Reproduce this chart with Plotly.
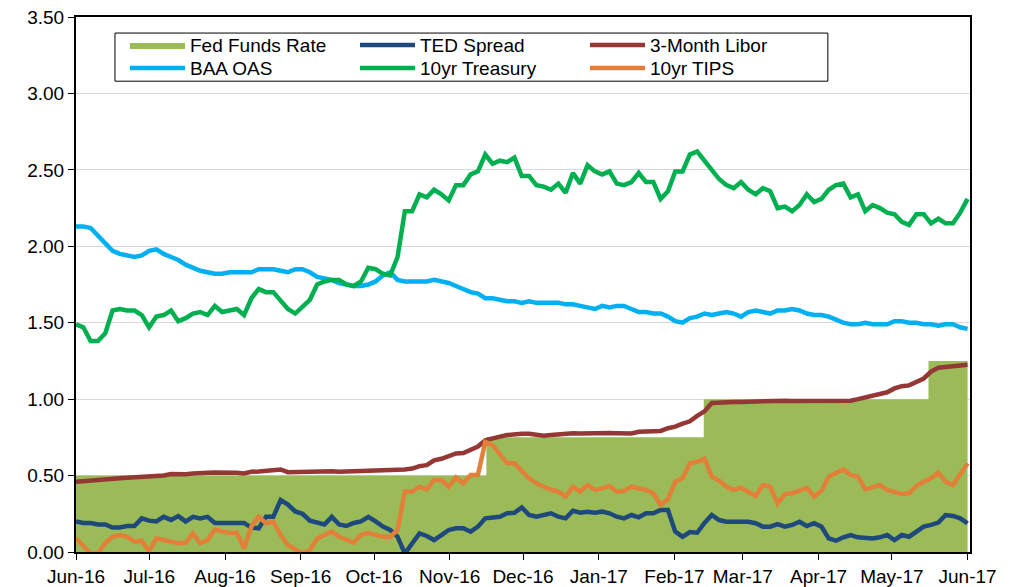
import pandas as pd
import plotly.graph_objects as go

# sample dates, roughly every 3 days from Jun-16 to Jun-17
dates = pd.date_range('2016-06-01', '2017-06-01', periods=123)

# fed funds target (upper bound) as step changes
fed_dates = ['2016-06-01', '2016-11-16', '2017-02-13', '2017-05-16', '2017-06-01']
fed_rate = [0.50, 0.75, 1.00, 1.25, 1.25]

ted_spread = [
    .20, .19, .19, .18, .18, .16, .16, .17, .17, .22, .205, .20, .23, .21, .235, .20, .23, .22, .23, .19, .19,
    .19, .19, .19, .16, .155, .23, .23, .34, .31, .265, .25, .205, .19, .18, .23, .18, .17, .19, .20, .23, .20,
    .166, .144, .10, -.01, .06, .122, .105, .078, .111, .144, .155, .155, .133, .166, .22, .225, .231, .253,
    .257, .292, .242, .231, .242, .253, .231, .22, .27, .257, .264, .257, .264, .253, .231, .22, .242, .227,
    .253, .253, .275, .275, .133,
    .10, .13, .126, .19, .242, .209, .198, .198, .198, .198, .188, .166, .166, .183, .166, .177, .198, .17,
    .188, .166, .089, .074, .096, .111, .096, .089, .089, .096, .111, .078, .111, .10, .133, .166, .177, .192,
    .242, .236, .22, .188,
]

libor_3m = [
    .46, .465, .47, .473, .477, .48, .483, .486, .489, .49, .494, .497, .50, .51, .508, .508, .514, .519, .519,
    .52, .521, .521, .519, .514, .525, .527, .53, .535, .54, .522, .524, .525, .525, .528, .528, .528, .525,
    .529, .53, .53, .531, .532,
    .533, .535, .537, .54, .546, .562, .568, .60, .61, .628, .645, .648, .672, .69, .73, .745, .755, .765, .772,
    .774, .774, .77, .76, .765, .77, .775, .777, .776, .778, .778, .78, .778, .777, .774, .776, .786, .787,
    .789, .792, .81, .82,
    .84, .855, .89, .92, .975, .979, .98, .982, .982, .984, .985, .986, .988, .99, .99, .988, .988, .99, .99,
    .99, .99, .988, .985, .99, 1.0, 1.012, 1.025, 1.04, 1.045, 1.07, 1.085, 1.09, 1.115, 1.135, 1.18, 1.205,
    1.21, 1.215, 1.22, 1.225,
]

baa_oas = [
    2.13, 2.13, 2.12, 2.07, 2.03, 1.97, 1.95, 1.94, 1.93, 1.94, 1.97, 1.98, 1.95, 1.93, 1.91, 1.88, 1.86, 1.84,
    1.83, 1.82, 1.82, 1.83, 1.83, 1.83, 1.83, 1.85, 1.85, 1.85, 1.84, 1.83, 1.85, 1.85, 1.83, 1.80, 1.79, 1.78,
    1.76, 1.75, 1.74, 1.74, 1.75, 1.77,
    1.81, 1.83, 1.78, 1.77, 1.77, 1.77, 1.77, 1.78, 1.77, 1.76, 1.74, 1.72, 1.70, 1.69, 1.66, 1.66, 1.65, 1.64,
    1.64, 1.63, 1.64, 1.63, 1.63, 1.63, 1.63, 1.62, 1.62, 1.61, 1.60, 1.59, 1.61, 1.60, 1.61, 1.61, 1.59, 1.57,
    1.57, 1.56, 1.56, 1.54, 1.51,
    1.50, 1.53, 1.54, 1.56, 1.55, 1.56, 1.57, 1.56, 1.54, 1.57, 1.58, 1.57, 1.56, 1.58, 1.58, 1.59, 1.58, 1.56,
    1.55, 1.55, 1.54, 1.52, 1.50, 1.49, 1.49, 1.50, 1.49, 1.49, 1.49, 1.51, 1.51, 1.50, 1.50, 1.49, 1.49, 1.48,
    1.49, 1.49, 1.47, 1.46,
]

treasury_10y = [
    1.49, 1.47, 1.38, 1.38, 1.43, 1.58, 1.59, 1.58, 1.58, 1.55, 1.47, 1.54, 1.55, 1.58, 1.51, 1.53, 1.56, 1.57,
    1.55, 1.61, 1.57, 1.58, 1.59, 1.55, 1.66, 1.72, 1.70, 1.70, 1.64, 1.59, 1.56, 1.61, 1.65, 1.75, 1.77, 1.78,
    1.78, 1.75, 1.74, 1.77, 1.86, 1.85,
    1.82, 1.81, 1.93, 2.23, 2.23, 2.34, 2.32, 2.37, 2.34, 2.30, 2.40, 2.40, 2.47, 2.49, 2.60, 2.54, 2.56, 2.55,
    2.58, 2.46, 2.46, 2.40, 2.39, 2.37, 2.41, 2.35, 2.48, 2.41, 2.53, 2.49, 2.47, 2.49, 2.41, 2.40, 2.42, 2.48,
    2.42, 2.42, 2.31, 2.36, 2.49,
    2.49, 2.60, 2.62, 2.56, 2.49, 2.44, 2.40, 2.38, 2.42, 2.37, 2.34, 2.38, 2.36, 2.25, 2.26, 2.23, 2.27, 2.34,
    2.29, 2.31, 2.37, 2.40, 2.41, 2.32, 2.34, 2.23, 2.27, 2.25, 2.22, 2.21, 2.16, 2.14, 2.21, 2.21, 2.15, 2.18,
    2.15, 2.15, 2.22, 2.31,
]

tips_10y = [
    .09, .035, -.01, -.01, .057, .10, .111, .10, .068, .074, .005, .089, .078, .068, .057, .06, .122, .057,
    .078, .148, .133, .126, .126, .024, .166, .231, .188, .198, .111, .046, .017, -.01, .013, .089, .111, .133,
    .10, .078, .061, .111, .126, .111,
    .10, .10, .144, .395, .395, .427, .41, .471, .471, .427, .488, .449, .504, .504, .72, .70, .635, .58, .58,
    .536, .482, .449, .427, .406, .395, .362, .427, .395, .438, .406, .416, .432, .395, .40, .427, .42, .406,
    .384, .307, .345, .46,
    .482, .58, .59, .61, .493, .467, .427, .406, .42, .395, .366, .438, .427, .318, .379, .384, .401, .42, .362,
    .401, .493, .519, .54, .504, .493, .41, .423, .438, .406, .395, .379, .384, .432, .46, .482, .519, .46,
    .438, .504, .58,
]

FONT = 'Liberation Sans, Arial, sans-serif'

fig = go.Figure()

# fed funds as filled step area behind the lines
fig.add_trace(go.Scatter(
    x=fed_dates, y=fed_rate, name='Fed Funds Rate', mode='lines',
    line=dict(width=0, shape='hv', color='#9BBB59'),
    fill='tozeroy', fillcolor='#9BBB59', legend='legend'))

# (name, values, colour, legend row)
lines = [
    ('TED Spread', ted_spread, '#1F497D', 'legend'),
    ('3-Month Libor', libor_3m, '#953735', 'legend'),
    ('BAA OAS', baa_oas, '#00B0F0', 'legend2'),
    ('10yr Treasury', treasury_10y, '#00B050', 'legend2'),
    ('10yr TIPS', tips_10y, '#E2803A', 'legend2'),
]
for name, vals, color, leg in lines:
    fig.add_trace(go.Scatter(x=dates, y=vals, name=name, mode='lines',
                             line=dict(color=color, width=4.5), legend=leg))

leg_style = dict(orientation='h', xanchor='left', yanchor='top', x=0.0548,
                 bgcolor='rgba(0,0,0,0)', borderwidth=0,
                 itemwidth=55, entrywidth=160, tracegroupgap=0,
                 font=dict(family=FONT, size=19, color='black'))

# page body has an 8px offset, so the figure is 8px smaller than the window
fig.update_layout(
    width=1009, height=579,
    margin=dict(l=68, r=47, t=9, b=35),
    paper_bgcolor='white', plot_bgcolor='white',
    font=dict(family=FONT, size=19, color='black'),
    showlegend=True,
    legend=dict(y=0.983, **leg_style),
    legend2=dict(y=0.940, **leg_style),
    shapes=[dict(type='rect', xref='paper', yref='paper',
                 x0=0.0436, x1=0.841, y0=0.880, y1=0.970,
                 line=dict(color='black', width=1), fillcolor='white', layer='above')],
)
fig.update_xaxes(type='date', range=['2016-06-01', '2017-06-02'], automargin=False,
                 dtick='M1', tick0='2016-06-01', tickformat='%b-%y',
                 ticklabeloverflow='allow',
                 showgrid=False, ticks='outside', ticklen=6, tickcolor='black',
                 showline=True, linewidth=2, linecolor='black', mirror=True)
fig.update_yaxes(range=[0, 3.5], dtick=0.5, tickformat='.2f', automargin=False,
                 ticklabeloverflow='allow',
                 showgrid=True, gridcolor='#D9D9D9', gridwidth=1, zeroline=False,
                 ticks='outside', ticklen=6, tickcolor='black',
                 showline=True, linewidth=2, linecolor='black', mirror=True)

fig.write_html('out.html')
